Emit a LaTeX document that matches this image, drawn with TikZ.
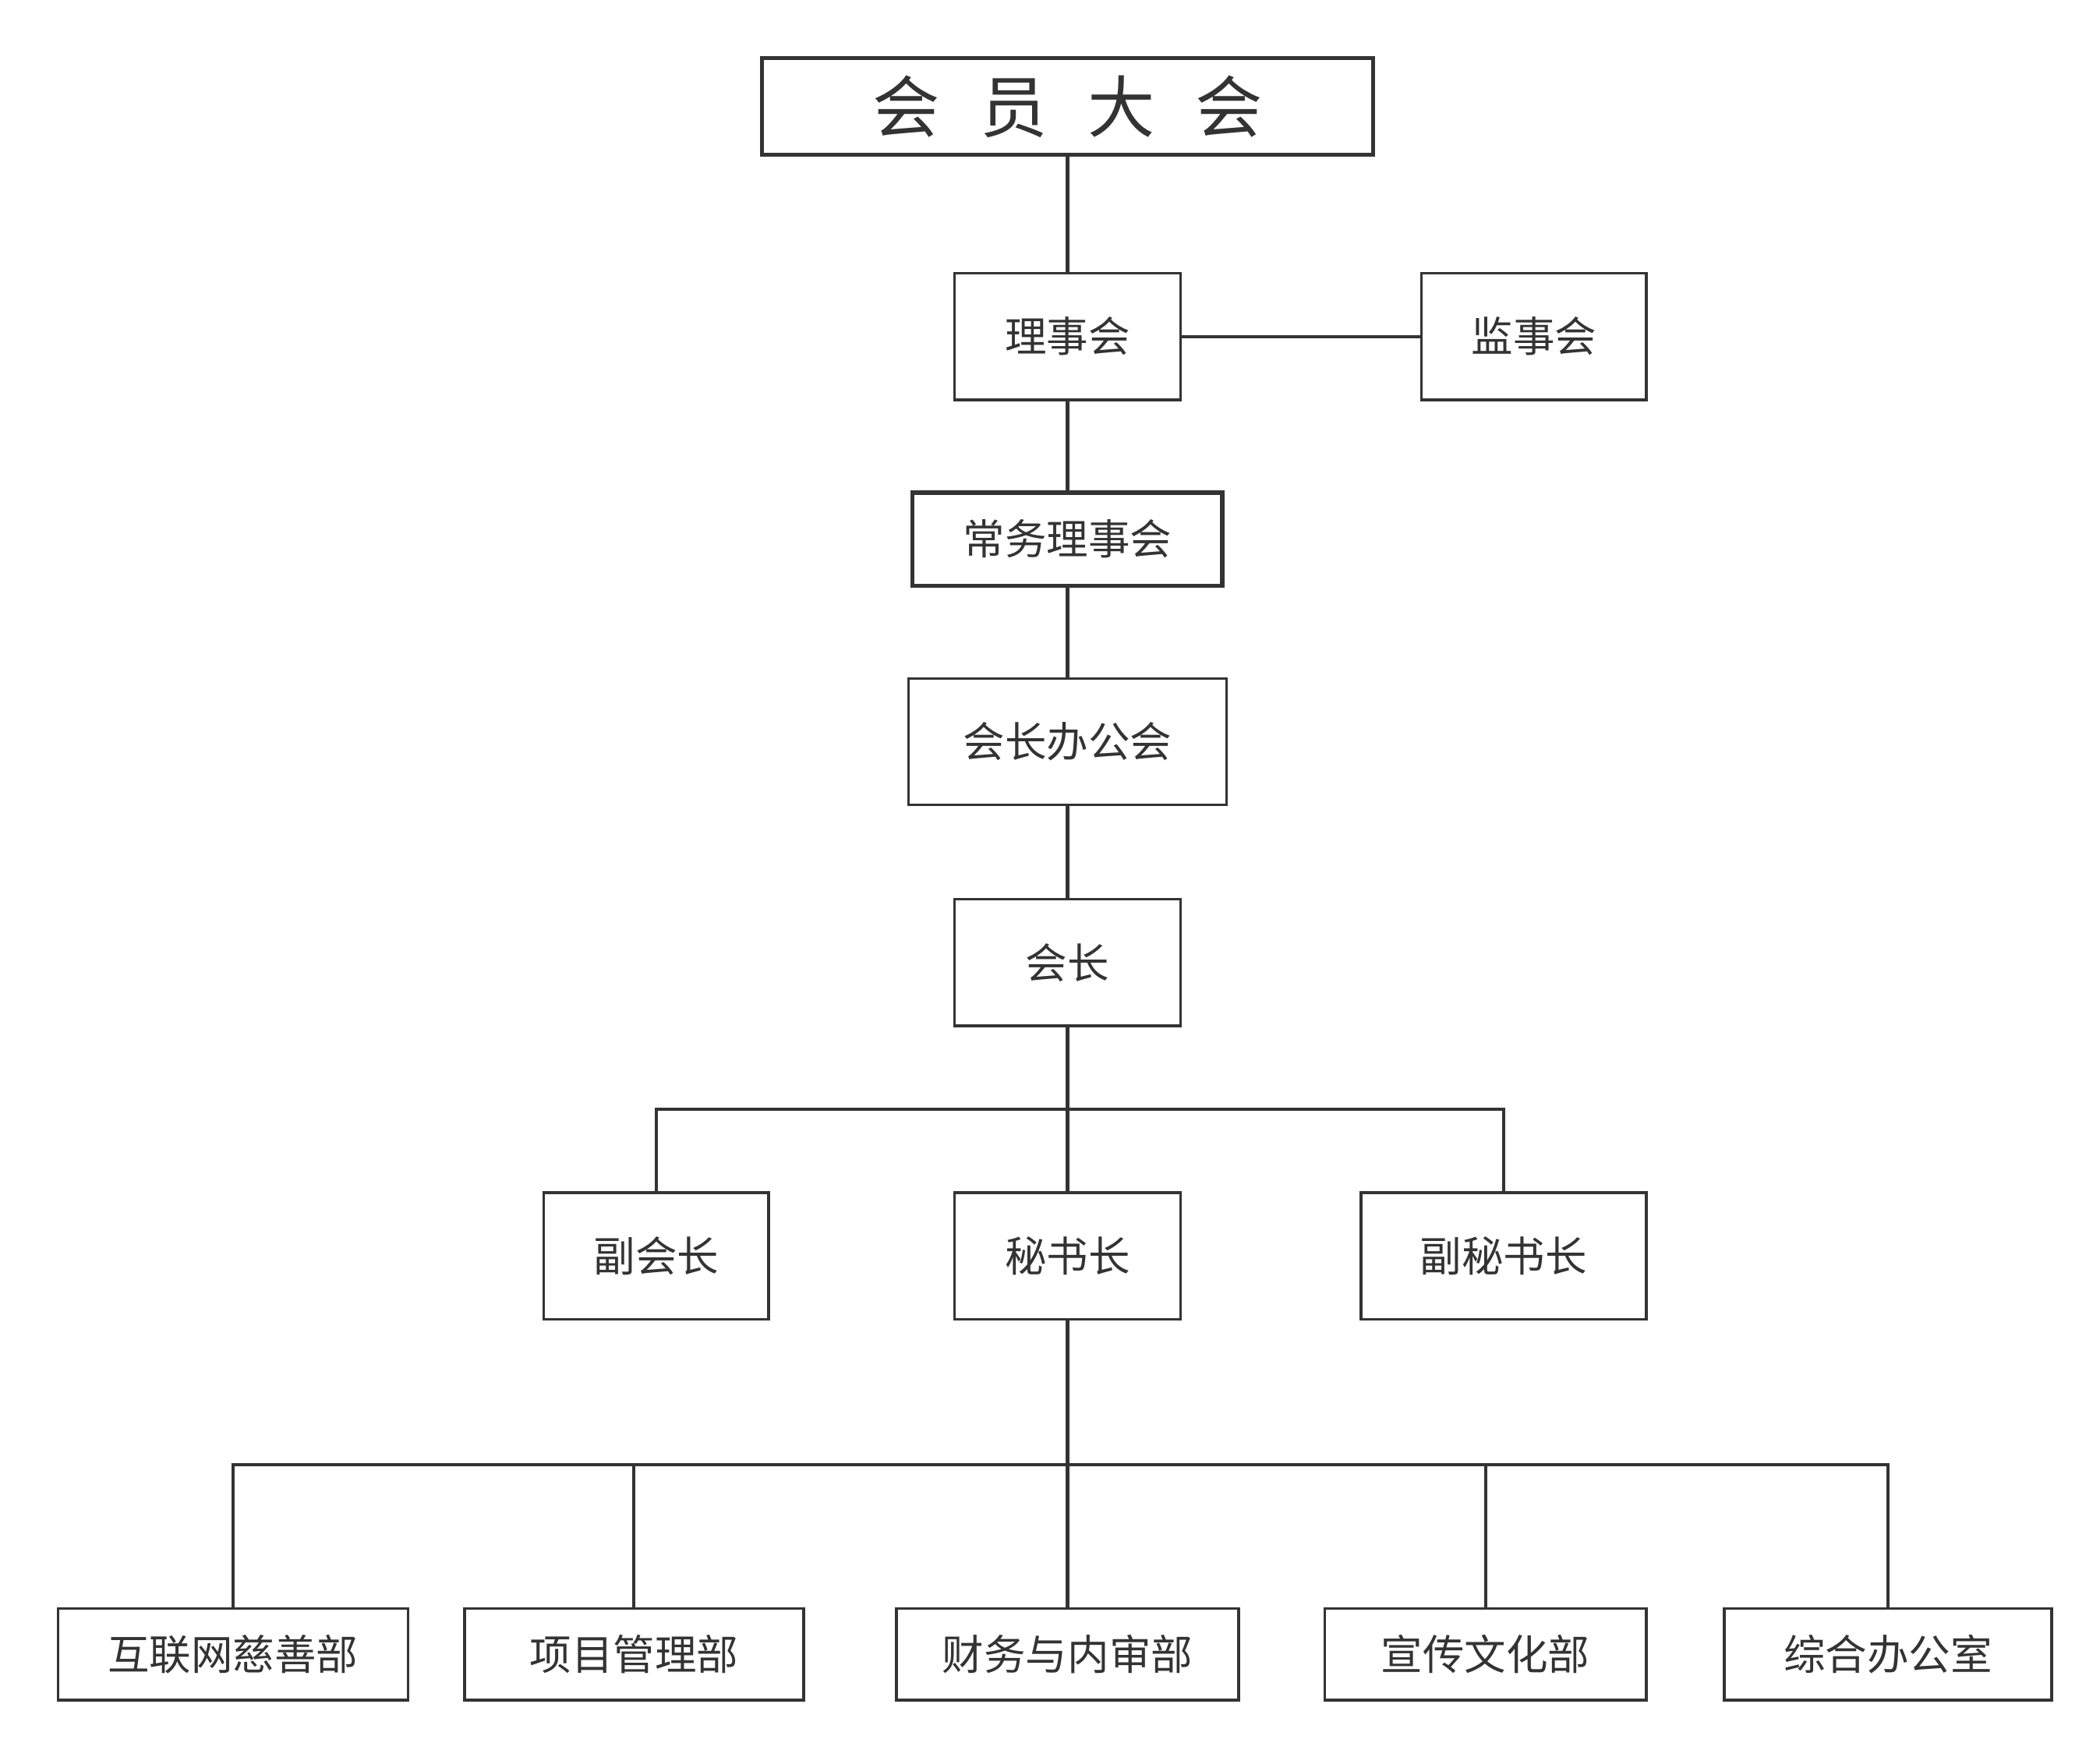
\documentclass[tikz,border=0pt]{standalone}
\usepackage{fontspec}
\newfontfamily\cjk{Noto Sans CJK SC}
\begin{document}
\begin{tikzpicture}[x=1pt,y=-1pt,
  box/.style={draw=black!80,line width=2pt,fill=white,inner sep=0pt,text=black!80,font=\cjk\fontsize{31}{36}\selectfont},
  thick box/.style={box,line width=3pt},
  ln/.style={draw=black!80,line width=2.4pt}]
\useasboundingbox (0,0) rectangle (1560,1300);
\newcommand{\bx}[6]{\node[#1,minimum width=#4-#3,minimum height=#6-#5] (#2) at ({(#3+#4)/2},{(#5+#6)/2})}
\bx{thick box}{top}{566}{1020}{43}{115} {\fontsize{50}{56}\selectfont 会\hspace{0.6em}员\hspace{0.6em}大\hspace{0.6em}会};
\bx{box}{lsh}{709}{877}{203}{297} {理事会};
\bx{box}{jsh}{1056}{1223}{203}{297} {监事会};
\bx{thick box}{cw}{678}{908}{366}{435} {常务理事会};
\bx{box}{bg}{675}{911}{504}{598} {会长办公会};
\bx{box}{hz}{709}{877}{668}{762} {会长};
\bx{box}{fhz}{404}{571}{886}{980} {副会长};
\bx{box}{msz}{709}{877}{886}{980} {秘书长};
\bx{box}{fms}{1011}{1223}{886}{980} {副秘书长};
\bx{box}{b1}{43}{303}{1195}{1263} {互联网慈善部};
\bx{box}{b2}{345}{597}{1195}{1263} {项目管理部};
\bx{box}{b3}{666}{920}{1195}{1263} {财务与内审部};
\bx{box}{b4}{984}{1223}{1195}{1263} {宣传文化部};
\bx{box}{b5}{1281}{1524}{1195}{1263} {综合办公室};
\coordinate (j1) at (793,824);
\coordinate (j2) at (793,1088);
\draw[ln] (top) -- (lsh);
\draw[ln] (lsh) -- (jsh);
\draw[ln] (lsh) -- (cw);
\draw[ln] (cw) -- (bg);
\draw[ln] (bg) -- (hz);
\draw[ln] (hz) -- (msz);
\draw[ln] (fhz.north) |- (j1) -| (fms.north);
\draw[ln] (msz) -- (b3);
\draw[ln] (b1.north) |- (j2) -| (b5.north);
\draw[ln] (b2.north) -- (b2.north |- j2);
\draw[ln] (b4.north) -- (b4.north |- j2);
\end{tikzpicture}
\end{document}
